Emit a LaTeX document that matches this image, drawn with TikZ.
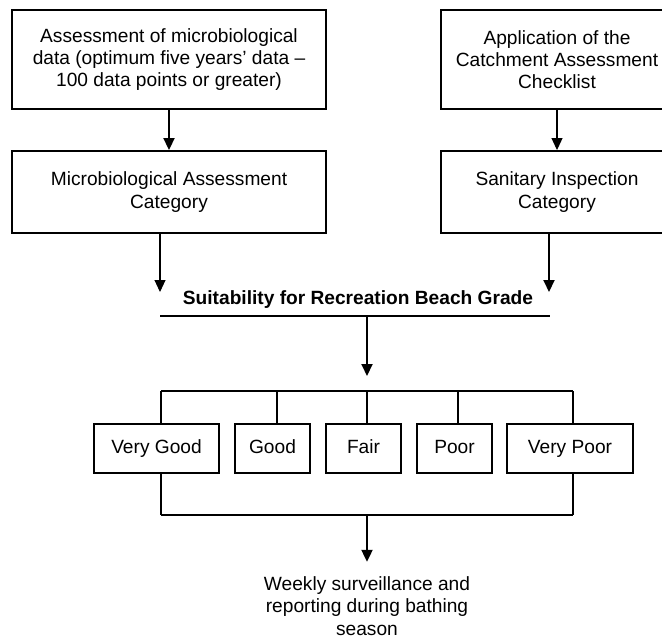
\documentclass[tikz,border=0pt]{standalone}
\usepackage{fontspec}
\setmainfont{Liberation Sans}
\usetikzlibrary{arrows.meta}

\begin{document}
\begin{tikzpicture}[x=0.02cm, y=-0.02cm,
  every node/.style={font=\fontsize{10.9pt}{12.6pt}\selectfont},
  box/.style={draw, line width=1.1pt, align=center, inner sep=0pt},
  grade/.style={box, minimum height=0.98cm, text height=0.75em, text depth=0.22em},
  thin line/.style={line width=0.6pt},
  thick line/.style={line width=1.1pt},
  arr/.style={-{Triangle[length=0.24cm, width=0.22cm]}}]
\useasboundingbox (0,0) rectangle (662,637);

% inputs
\node[box, minimum width=6.28cm, minimum height=1.98cm] (assess) at (169,59.5)
  {Assessment of microbiological\\data (optimum five years' data --\\100 data points or greater)};
\node[box, minimum width=4.64cm, minimum height=1.98cm] (apply) at (557,59.5)
  {Application of the\\Catchment Assessment\\Checklist};
\node[box, minimum width=6.28cm, minimum height=1.64cm] (micro) at (169,192)
  {Microbiological Assessment\\Category};
\node[box, minimum width=4.64cm, minimum height=1.64cm] (sanitary) at (557,192)
  {Sanitary Inspection\\Category};

% beach grade
\node[font=\fontsize{10.9pt}{12.6pt}\selectfont\bfseries] (title) at (358,300)
  {Suitability for Recreation Beach Grade};
\coordinate (gl) at (160,316);
\coordinate (gr) at (550,316);
\coordinate (tipl) at (160,292);
\coordinate (tipr) at (549,292);
\coordinate (tipc) at (367,376);
\coordinate (merge) at (367,515);
\coordinate (b1) at (161,391);
\coordinate (b2) at (277,391);
\coordinate (b3) at (367,391);
\coordinate (b4) at (458,391);
\coordinate (b5) at (573,391);

\node[grade, minimum width=2.5cm] (vgood) at (156.5,448.5) {Very Good};
\node[grade, minimum width=1.5cm] (good) at (272.5,448.5) {Good};
\node[grade, minimum width=1.5cm] (fair) at (363.5,448.5) {Fair};
\node[grade, minimum width=1.5cm] (poor) at (454.5,448.5) {Poor};
\node[grade, minimum width=2.52cm] (vpoor) at (570,448.5) {Very Poor};

\node[align=center, inner sep=0pt, outer sep=0.3cm] (weekly) at (367,606)
  {Weekly surveillance and\\reporting during bathing\\season};

% connectors
\draw[arr, thick line] (assess) -- (micro);
\draw[arr, thin line] (apply) -- (sanitary);
\draw[arr, thin line] (micro.south -| tipl) -- (tipl);
\draw[arr, thick line] (sanitary.south -| tipr) -- (tipr);
\draw[thin line] (gl) -- (gr);
\draw[arr, thick line] (gl -| tipc) -- (tipc);
\draw[thick line] (b1) -- (b5);
\foreach \b/\g/\w in {b1/vgood/thin line, b2/good/thick line, b3/fair/thick line, b4/poor/thin line, b5/vpoor/thin line}
  \draw[\w] (\b) -- (\b |- \g.north);
\draw[thin line] (b1 |- vgood.south) -- (b1 |- merge);
\draw[thin line] (b5 |- vpoor.south) -- (b5 |- merge);
\draw[thick line] (b1 |- merge) -- (b5 |- merge);
\draw[arr, thick line] (merge) -- (weekly);
\end{tikzpicture}
\end{document}
